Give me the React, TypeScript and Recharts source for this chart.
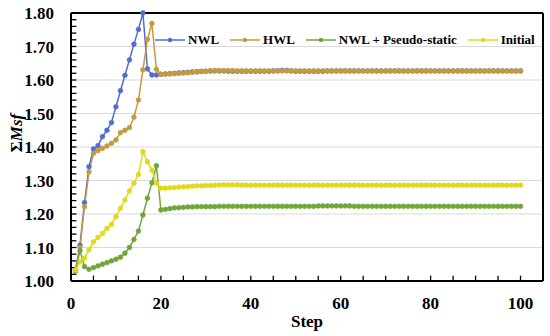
import { LineChart, Line, XAxis, YAxis, CartesianGrid, ReferenceLine, Legend } from 'recharts';

const steps = Array.from({ length: 100 }, (_, i) => i + 1);

const nwl = [
  1.030, 1.107, 1.234, 1.341, 1.394, 1.404, 1.431, 1.450, 1.473, 1.520,
  1.568, 1.614, 1.660, 1.707, 1.751, 1.800, 1.633, 1.615, 1.615, 1.617,
  1.618, 1.619, 1.620, 1.621, 1.622, 1.623, 1.624, 1.625, 1.626, 1.626,
  1.627, 1.627, 1.627, 1.627, 1.626, 1.626, 1.626, 1.626, 1.626, 1.626,
  1.626, 1.626, 1.626, 1.626, 1.627, 1.628, 1.629, 1.629, 1.627, 1.626,
  1.626, 1.626, 1.626, 1.626, 1.626, 1.626, 1.627, 1.627, 1.627, 1.627,
  1.627, 1.627, 1.627, 1.627, 1.627, 1.627, 1.627, 1.627, 1.627, 1.627,
  1.627, 1.627, 1.627, 1.627, 1.627, 1.627, 1.627, 1.627, 1.627, 1.627,
  1.627, 1.627, 1.627, 1.627, 1.627, 1.627, 1.627, 1.627, 1.627, 1.627,
  1.627, 1.627, 1.627, 1.627, 1.627, 1.627, 1.627, 1.627, 1.627, 1.627,
];

const hwl = [
  1.030, 1.100, 1.222, 1.326, 1.381, 1.389, 1.396, 1.403, 1.411, 1.421,
  1.443, 1.450, 1.458, 1.489, 1.540, 1.630, 1.721, 1.769, 1.632, 1.617,
  1.617, 1.618, 1.619, 1.620, 1.621, 1.622, 1.623, 1.624, 1.625, 1.626,
  1.627, 1.628, 1.628, 1.628, 1.628, 1.628, 1.627, 1.627, 1.627, 1.627,
  1.627, 1.627, 1.627, 1.627, 1.627, 1.627, 1.627, 1.627, 1.627, 1.627,
  1.627, 1.627, 1.627, 1.627, 1.627, 1.627, 1.627, 1.627, 1.627, 1.627,
  1.627, 1.627, 1.627, 1.627, 1.627, 1.627, 1.627, 1.627, 1.627, 1.627,
  1.627, 1.627, 1.627, 1.627, 1.627, 1.627, 1.627, 1.627, 1.627, 1.627,
  1.627, 1.627, 1.627, 1.627, 1.627, 1.627, 1.627, 1.627, 1.627, 1.627,
  1.627, 1.627, 1.627, 1.627, 1.627, 1.627, 1.627, 1.627, 1.627, 1.627,
];

const pseudoStatic = [
  1.033, 1.090, 1.043, 1.035, 1.040, 1.045, 1.050, 1.055, 1.060, 1.065,
  1.071, 1.083, 1.100, 1.124, 1.149, 1.197, 1.247, 1.293, 1.344, 1.212,
  1.214, 1.216, 1.218, 1.219, 1.220, 1.221, 1.221, 1.222, 1.222, 1.222,
  1.222, 1.222, 1.223, 1.223, 1.223, 1.223, 1.223, 1.223, 1.223, 1.223,
  1.223, 1.223, 1.223, 1.223, 1.223, 1.223, 1.223, 1.223, 1.223, 1.223,
  1.223, 1.223, 1.223, 1.223, 1.224, 1.224, 1.224, 1.224, 1.224, 1.224,
  1.224, 1.224, 1.223, 1.223, 1.223, 1.223, 1.223, 1.223, 1.223, 1.223,
  1.223, 1.223, 1.223, 1.223, 1.223, 1.223, 1.223, 1.223, 1.223, 1.223,
  1.223, 1.223, 1.223, 1.223, 1.223, 1.223, 1.223, 1.223, 1.223, 1.223,
  1.223, 1.223, 1.223, 1.223, 1.223, 1.223, 1.223, 1.223, 1.223, 1.223,
];

const initial = [
  1.033, 1.058, 1.068, 1.093, 1.117, 1.130, 1.142, 1.157, 1.169, 1.192,
  1.217, 1.242, 1.269, 1.292, 1.318, 1.386, 1.356, 1.331, 1.292, 1.277,
  1.277, 1.278, 1.279, 1.280, 1.281, 1.282, 1.283, 1.284, 1.284, 1.285,
  1.285, 1.286, 1.286, 1.287, 1.287, 1.287, 1.287, 1.286, 1.286, 1.286,
  1.286, 1.286, 1.286, 1.286, 1.286, 1.286, 1.286, 1.286, 1.286, 1.286,
  1.286, 1.286, 1.286, 1.286, 1.286, 1.286, 1.286, 1.286, 1.286, 1.286,
  1.286, 1.286, 1.286, 1.286, 1.286, 1.286, 1.286, 1.286, 1.286, 1.286,
  1.286, 1.286, 1.286, 1.286, 1.286, 1.286, 1.286, 1.286, 1.286, 1.286,
  1.286, 1.286, 1.286, 1.286, 1.286, 1.286, 1.286, 1.286, 1.286, 1.286,
  1.286, 1.286, 1.286, 1.286, 1.286, 1.286, 1.286, 1.286, 1.286, 1.286,
];

const xTicks = [0, 20, 40, 60, 80, 100];
const xMinorTicks = Array.from({ length: 21 }, (_, i) => i * 5);
const yTicks = [1.0, 1.1, 1.2, 1.3, 1.4, 1.5, 1.6, 1.7, 1.8];
const yMinorTicks = Array.from({ length: 41 }, (_, i) => Math.round((1 + i * 0.02) * 100) / 100);

const series = [
  { key: 'nwl', name: 'NWL', color: '#4f6fcf' },
  { key: 'hwl', name: 'HWL', color: '#c49a3c' },
  { key: 'pseudo', name: 'NWL + Pseudo-static', color: '#6fa63a' },
  { key: 'initial', name: 'Initial', color: '#e2d81c' },
];

const data = steps.map((s, i) => ({
  step: s,
  nwl: nwl[i],
  hwl: hwl[i],
  pseudo: pseudoStatic[i],
  initial: initial[i],
}));

const FONT = 'Liberation Serif, Tinos, serif';
const tickStyle = { fontFamily: FONT, fontWeight: 'bold', fontSize: 17, fill: '#000' };

const YLabel = ({ viewBox }: any) => {
  const cx = viewBox.x + 16;
  const cy = viewBox.y + viewBox.height / 2 - 14;
  return (
    <text
      x={cx}
      y={cy}
      transform={`rotate(-90, ${cx}, ${cy})`}
      textAnchor="middle"
      dominantBaseline="central"
      fontFamily={FONT}
      fontWeight="bold"
      fontSize={17}
      fill="#000"
    >
      <tspan>Σ</tspan>
      <tspan fontStyle="italic">Msf</tspan>
    </text>
  );
};

const LegendContent = () => (
  <div style={{ display: 'flex', alignItems: 'center', fontFamily: FONT, fontWeight: 'bold', fontSize: 13, color: '#000' }}>
    {series.map((s) => (
      <div key={s.key} style={{ display: 'flex', alignItems: 'center', marginRight: 11 }}>
        <svg width={30} height={8} style={{ marginRight: 3 }}>
          <line x1={0} y1={4} x2={30} y2={4} stroke={s.color} strokeWidth={1.5} />
          <circle cx={15} cy={4} r={2.2} fill={s.color} />
        </svg>
        <span style={{ whiteSpace: 'nowrap' }}>{s.name}</span>
      </div>
    ))}
  </div>
);

export default function App() {
  return (
    <div style={{ position: 'absolute', left: 0, top: 0, width: 550, height: 336, background: '#fff', fontFamily: FONT }}>
      <LineChart width={550} height={336} data={data} margin={{ top: 13, right: 7, bottom: 0, left: 0 }}>
        <CartesianGrid vertical={false} stroke="#d9d9d9" strokeWidth={1} />
        <XAxis
          dataKey="step"
          type="number"
          domain={[0, 105]}
          ticks={xTicks}
          height={55}
          tickLine={false}
          tickMargin={10}
          axisLine={{ stroke: '#000', strokeWidth: 2 }}
          tick={tickStyle}
          label={{ value: 'Step', position: 'insideBottom', offset: 9, style: tickStyle }}
        />
        <YAxis
          type="number"
          domain={[1, 1.8]}
          ticks={yTicks}
          width={71}
          tickLine={false}
          tickMargin={11}
          axisLine={{ stroke: '#000', strokeWidth: 2 }}
          tickFormatter={(v: number) => v.toFixed(2)}
          tick={tickStyle}
          label={<YLabel />}
        />
        {/* inside minor tick marks */}
        {xMinorTicks.map((v) => (
          <ReferenceLine
            key={`xt-${v}`}
            segment={[{ x: v, y: 1 }, { x: v, y: 1.016 }]}
            stroke="#000"
            strokeWidth={1.3}
            ifOverflow="visible"
          />
        ))}
        {yMinorTicks.map((v) => (
          <ReferenceLine
            key={`yt-${v}`}
            segment={[{ x: 0, y: v }, { x: 1.2, y: v }]}
            stroke="#000"
            strokeWidth={1.3}
            ifOverflow="visible"
          />
        ))}
        <ReferenceLine y={1.8} stroke="#000" strokeWidth={2} />
        <ReferenceLine x={105} stroke="#000" strokeWidth={2} />
        <Legend
          layout="horizontal"
          verticalAlign="middle"
          align="center"
          content={<LegendContent />}
          wrapperStyle={{ position: 'absolute', top: 32, left: 155, width: 'auto' }}
        />
        {series.map((s) => (
          <Line
            key={s.key}
            dataKey={s.key}
            name={s.name}
            type="linear"
            stroke={s.color}
            strokeWidth={1.5}
            dot={{ r: 2.4, fill: s.color, stroke: s.color, strokeWidth: 0.6 }}
            activeDot={false}
            isAnimationActive={false}
          />
        ))}
      </LineChart>
    </div>
  );
}
